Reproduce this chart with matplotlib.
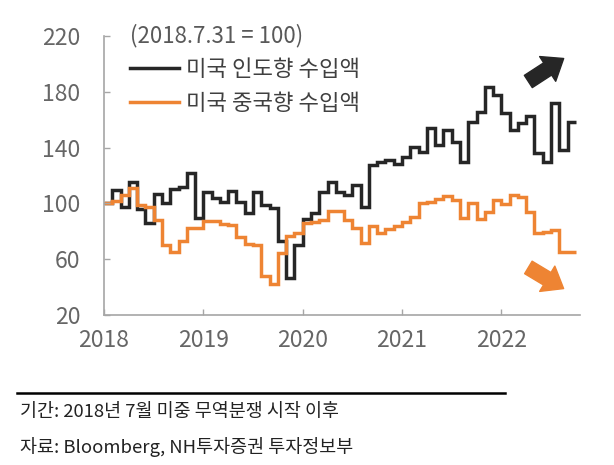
import numpy as np
import matplotlib
matplotlib.use('Agg')
import matplotlib.pyplot as plt
from matplotlib.lines import Line2D

plt.rcParams['font.family'] = ['Noto Sans CJK KR', 'DejaVu Sans']

# monthly index values, 2018.7.31 = 100
india = [100, 109.6, 97.3, 115.3, 96, 86, 106.7, 100.3, 110, 111.8, 121.8, 89.4,
         108, 104.2, 100.8, 109, 100.8, 93.2, 108.4, 99, 96.8, 73.2, 46.2, 70.2,
         88.6, 92.9, 108.4, 115.6, 108.4, 106, 113.2, 97.2, 127.5, 129.9, 131.1, 128,
         133.5, 140.6, 137, 153.8, 141.9, 152.6, 144.2, 129.9, 158, 165.7, 183.7, 177.7,
         164.6, 152.6, 157.4, 163, 135.9, 129.9, 171.8, 138, 158.6]
china = [100, 101.7, 106, 110.8, 98.5, 97.2, 88.1, 70, 65.5, 73, 82.7, 82.3,
         87.5, 87.3, 85, 84.4, 76.2, 70.8, 70, 47.8, 42, 64.5, 76.6, 79,
         86.3, 86.9, 88.1, 94.8, 94.8, 88.1, 82.2, 71.8, 83.8, 79, 81.4, 84,
         86.5, 90.5, 100, 101.2, 103, 105, 102.4, 89.3, 100.6, 88.7, 93.5, 102.6,
         99.5, 106.3, 104.8, 94, 78.6, 79.7, 80.9, 64.9, 64.9]
year_labels = ['2018', '2019', '2020', '2021', '2022']
y_ticks = [20, 60, 100, 140, 180, 220]

black = '#262626'
orange = '#EE8433'
gray = '#a6a6a6'

fig = plt.figure(figsize=(6.14, 4.65), dpi=100)
ax = fig.add_axes([104/614, 1 - 315/465, 476/614, 279/465])

edges = np.arange(len(india) + 1)
ax.stairs(india, edges, baseline=None, color=black, lw=2.5, label='미국 인도향 수입액')
ax.stairs(china, edges, baseline=None, color=orange, lw=2.5, label='미국 중국향 수입액')

ax.set_xlim(0, 57.5)
ax.set_ylim(20, 220)
ax.set_yticks(y_ticks)
ax.set_xticks(np.arange(len(year_labels)) * 12)
ax.set_xticklabels(year_labels)

for s in ['top', 'right']:
    ax.spines[s].set_visible(False)
for s in ['left', 'bottom']:
    ax.spines[s].set_color(gray)
    ax.spines[s].set_linewidth(1.2)
ax.tick_params(direction='in', length=4.5, width=1, color=gray,
               labelsize=16.5, labelcolor='#666666')
ax.tick_params(axis='y', pad=17)
ax.tick_params(axis='x', pad=10)

leg = ax.legend(loc='upper left', bbox_to_anchor=(6/476, 1.115), frameon=False,
                title='(2018.7.31 = 100)', alignment='left', fontsize=16,
                title_fontsize=16, handlelength=2.2, handletextpad=0.3,
                labelspacing=0.48)
leg.get_title().set_color('#595959')
for t in leg.get_texts():
    t.set_color('#404040')

# direction arrows
arrow_style = 'simple,head_length=0.55,head_width=0.85,tail_width=0.42'
ax.annotate('', xy=(566, 408), xytext=(526, 382), xycoords='figure pixels',
            arrowprops=dict(arrowstyle=arrow_style, color=black, mutation_scale=25))
ax.annotate('', xy=(566, 175), xytext=(526, 199), xycoords='figure pixels',
            arrowprops=dict(arrowstyle=arrow_style, color=orange, mutation_scale=25))

fig.add_artist(Line2D([17/614, 505/614], [1 - 393/465] * 2, transform=fig.transFigure,
                      color='black', lw=1.8))
fig.text(20/614, 1 - 412/465, '기간: 2018년 7월 미중 무역분쟁 시작 이후',
         fontsize=13.3, va='center', color='#222222')
fig.text(20/614, 1 - 447/465, '자료: Bloomberg, NH투자증권 투자정보부',
         fontsize=13.3, va='center', color='#222222')

fig.savefig('out.png', dpi=100)
